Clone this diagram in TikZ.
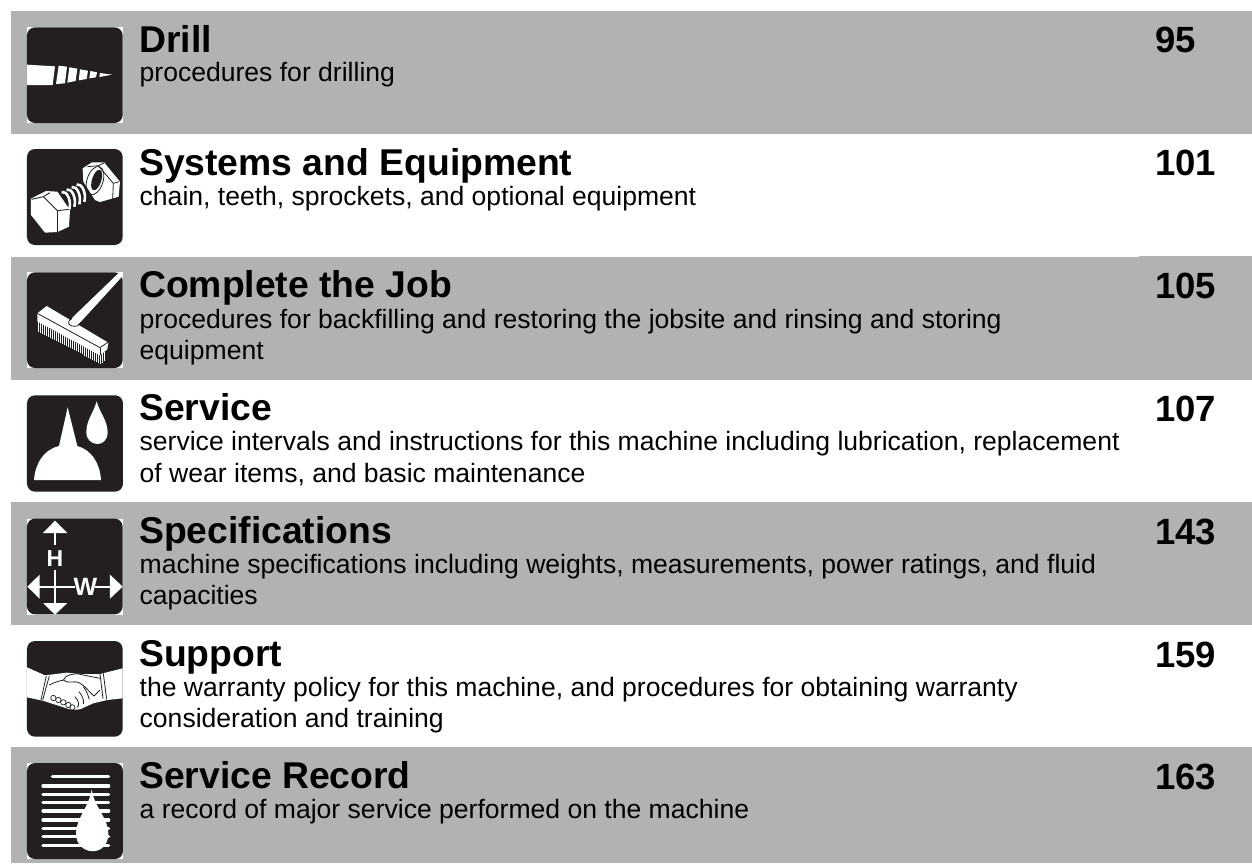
\documentclass[tikz,border=0pt]{standalone}
\usepackage{fontspec}
\setmainfont{Liberation Sans}
\definecolor{barg}{HTML}{B2B2B2}
\definecolor{ink}{HTML}{231F20}
\tikzset{
  title/.style={anchor=base west,inner sep=0pt,font=\fontsize{37.3}{37.3}\selectfont\bfseries,text=black},
  sub/.style={anchor=base west,inner sep=0pt,font=\fontsize{26.55}{26.55}\selectfont,text=black},
  pg/.style={anchor=base west,inner sep=0pt,font=\fontsize{36.5}{36.5}\selectfont\bfseries,text=black},
  zoomed/.style={x=0.33333pt,y=-0.33333pt},
  wl/.style={draw=white,line width=#1},
  wf/.style={fill=white,draw=none},
  inkl/.style={draw=ink,line width=#1}
}
\newcommand{\iconbox}[3]{% x0,y0 in zoom units (top-left), size
  \fill[white] (#1,#2) rectangle ++(288,288);
  \fill[ink,rounded corners=8pt] (#1,#2) rectangle ++(#3,#3);
}
\begin{document}
\begin{tikzpicture}[x=1pt,y=-1pt,line join=round]
\useasboundingbox (0,0) rectangle (1252,863);
\fill[white] (0,0) rectangle (1252,863);
% bars
\fill[barg] (11,11) rectangle (1252,134);
\fill[barg] (11,257) rectangle (1252,380);
\fill[barg] (1139,256) rectangle (1252,258);
\fill[barg] (11,502) rectangle (1252,625);
\fill[barg] (11,747) rectangle (1252,863);

% ---- drill
\begin{scope}[zoomed]
\iconbox{81}{82}{287}
\fill[white] (81,194) -- (165,199) -- (158,255) -- (81,255) -- cycle;
\fill[white] (176,197) -- (201,200) -- (195,250) -- (168,252) -- cycle;
\fill[white] (208,202) -- (232,206) -- (227,243) -- (202,248) -- cycle;
\fill[white] (240,208) -- (264,212) -- (260,237) -- (236,241) -- cycle;
\fill[white] (271,213) -- (291,217) -- (288,232) -- (268,235) -- cycle;
\fill[white] (300,219) -- (336,224) -- (298,231) -- cycle;
\end{scope}

% ---- bolt and nut
\begin{scope}[zoomed]
\fill[ink,rounded corners=8pt] (81,447) rectangle ++(287,288);
\fill[white] (93,596) -- (138,573) -- (172,575) -- (210,630) -- (207,680) -- (172,696) -- (135,698) -- (93,645) -- cycle;
\draw[inkl=0.9pt] (172,632) -- (172,696);
\draw[inkl=0.9pt] (172,632) -- (208,628);
\draw[inkl=0.9pt] (172,632) -- (130,590) -- (95,598);
\draw[inkl=0.9pt] (130,590) -- (150,578);
\foreach \d in {0,15,30,45}{
  \draw[wl=2.6pt] (185+\d,576-\d*0.5) .. controls (200+\d,572-\d*0.5) and (215+\d,600-\d*0.5) .. (208+\d,628-\d*0.5);
}
\fill[white] (248,505) -- (276,487) -- (312,487) -- (360,545) -- (356,590) -- (300,606) -- (285,600) -- (250,545) -- cycle;
\draw[inkl=0.8pt,rotate around={-18:(285,542)}] (285,542) ellipse (24 and 44);
\fill[ink,rotate around={-18:(290,540)}] (290,540) ellipse (14 and 32);
\draw[inkl=0.8pt] (262,500) -- (295,497) -- (312,489);
\draw[inkl=0.8pt] (295,497) -- (340,550) -- (358,545);
\draw[inkl=0.8pt] (340,550) -- (338,597);
\end{scope}

% ---- broom
\begin{scope}[zoomed,shift={(0,750)}]
\iconbox{81}{67}{287}
\fill[white] (112,190) -- (140,168) -- (325,278) -- (322,298) -- (300,316) -- (112,214) -- cycle;
\fill[white] (358,67) -- (368,78) -- (240,218) -- (230,226) -- (212,214) -- (218,202) -- cycle;
\draw[inkl=0.8pt] (112,190) -- (300,293) -- (325,276);
\draw[inkl=0.8pt] (300,293) -- (300,316);
\draw[inkl=0.8pt] (214,205) .. controls (198,218) and (205,232) .. (232,228) -- (244,216);
\foreach \x in {116,122,...,296}{
  \draw[wl=0.9pt] (\x,{214+(\x-112)*0.54}) -- ++(0,{30-(\x-116)*0.03});
}
\foreach \x in {302,307,312}{
  \draw[wl=0.9pt] (\x,{316-(\x-300)*0.8}) -- ++(0,28);
}
\end{scope}

% ---- oil can and drop
\begin{scope}[zoomed,shift={(0,750)}]
\fill[ink,rounded corners=8pt] (81,436) rectangle ++(288,289);
\fill[white] (102,690) .. controls (106,640) and (130,600) .. (177,588) -- (203,472) -- (232,588) .. controls (275,600) and (300,640) .. (303,690) -- cycle;
\fill[white] (290,454) .. controls (280,490) and (259,510) .. (259,547) .. controls (259,590) and (322,597) .. (323,547) .. controls (322,510) and (300,490) .. (290,454) -- cycle;
\end{scope}

% ---- H W arrows
\begin{scope}[zoomed,shift={(0,1470)}]
\iconbox{81}{86}{287}
\fill[white] (165,92) -- (202,129) -- (129,129) -- cycle;
\fill[white] (165,374) -- (202,339) -- (129,339) -- cycle;
\fill[white] (82,290) -- (119,254) -- (119,326) -- cycle;
\fill[white] (368,290) -- (330,254) -- (330,326) -- cycle;
\draw[wl=1.8pt] (165,125) -- (165,166);
\draw[wl=1.8pt] (165,240) -- (165,345);
\draw[wl=1.8pt] (115,290) -- (226,290);
\draw[wl=1.8pt] (284,290) -- (335,290);
\node[inner sep=0pt,text=white,font=\fontsize{23}{23}\selectfont\bfseries] (h) at (165,206) {H};
\node[inner sep=0pt,text=white,font=\fontsize{25}{25}\selectfont\bfseries] (w) at (256,290) {W};
\end{scope}

% ---- handshake
\begin{scope}[zoomed,shift={(0,1470)}]
\fill[ink,rounded corners=8pt] (81,453) rectangle ++(287,287);
\fill[white] (81,532) -- (135,556) -- (200,548) -- (245,552) -- (300,552) -- (368,535) -- (368,625) -- (322,630) -- (280,640) -- (240,658) -- (215,660) -- (185,650) -- (128,632) -- (81,622) -- cycle;
\draw[inkl=0.8pt] (148,558) -- (128,630);
\draw[inkl=0.8pt] (139,558) -- (123,630);
\draw[inkl=0.8pt] (300,552) -- (309,626);
\draw[inkl=0.8pt] (310,550) -- (320,628);
\draw[inkl=0.8pt] (148,585) .. controls (165,575) and (185,572) .. (190,570) .. controls (195,555) and (225,548) .. (240,553) -- (300,565);
\draw[inkl=0.8pt] (190,570) .. controls (200,582) and (225,572) .. (235,577) .. controls (260,590) and (270,610) .. (282,618);
\draw[inkl=0.8pt] (250,590) .. controls (262,605) and (265,620) .. (268,628);
\draw[inkl=0.8pt] (237,605) .. controls (250,620) and (252,635) .. (250,642);
\draw[inkl=0.8pt] (225,620) .. controls (238,635) and (238,645) .. (232,652);
\draw[inkl=0.8pt] (300,600) -- (282,618);
\foreach \a/\b in {160/624,175/630,190/637,205/645,217/652}{
  \draw[inkl=0.7pt] (\a,\b) circle (8);
}
\end{scope}

% ---- service record
\begin{scope}[zoomed,shift={(0,1470)}]
\iconbox{81}{819}{288}
\draw[wl=3.2pt,line cap=round] (157,860) -- (326,860);
\foreach \y in {888,913,938,963,990,1015,1040,1067}{
  \draw[wl=3.2pt,line cap=round] (129,\y) -- (326,\y);
}
\fill[white] (275,898) .. controls (268,950) and (228,985) .. (228,1030) .. controls (228,1098) and (325,1105) .. (325,1030) .. controls (325,985) and (282,950) .. (275,898) -- cycle;
\end{scope}

% texts
\node[title] (t1) at (139,52.8) {Drill};
\node[sub]   (s1) at (139.5,81) {procedures for drilling};
\node[pg]    (p1) at (1154.8,52) {95};
\node[title] (t2) at (139,175.8) {Systems and Equipment};
\node[sub]   (s2) at (139.5,205.3) {chain, teeth, sprockets, and optional equipment};
\node[pg]    (p2) at (1154.8,175) {101};
\node[title] (t3) at (139,297.8) {Complete the Job};
\node[sub]   (s3) at (139.5,328.7) {procedures for backfilling and restoring the jobsite and rinsing and storing};
\node[sub]   (s3b) at (139.5,359.7) {equipment};
\node[pg]    (p3) at (1154.8,298) {105};
\node[title] (t4) at (139,420.8) {Service};
\node[sub]   (s4) at (139.5,450.7) {service intervals and instructions for this machine including lubrication, replacement};
\node[sub]   (s4b) at (139.5,482.7) {of wear items, and basic maintenance};
\node[pg]    (p4) at (1154.8,421) {107};
\node[title] (t5) at (139,543.8) {Specifications};
\node[sub]   (s5) at (139.5,573.7) {machine specifications including weights, measurements, power ratings, and fluid};
\node[sub]   (s5b) at (139.5,604.7) {capacities};
\node[pg]    (p5) at (1154.8,544) {143};
\node[title] (t6) at (139,666.8) {Support};
\node[sub]   (s6) at (139.5,696.7) {the warranty policy for this machine, and procedures for obtaining warranty};
\node[sub]   (s6b) at (139.5,727.7) {consideration and training};
\node[pg]    (p6) at (1154.8,667) {159};
\node[title] (t7) at (139,788.8) {Service Record};
\node[sub]   (s7) at (139.5,818.7) {a record of major service performed on the machine};
\node[pg]    (p7) at (1154.8,789) {163};
\end{tikzpicture}
\end{document}
